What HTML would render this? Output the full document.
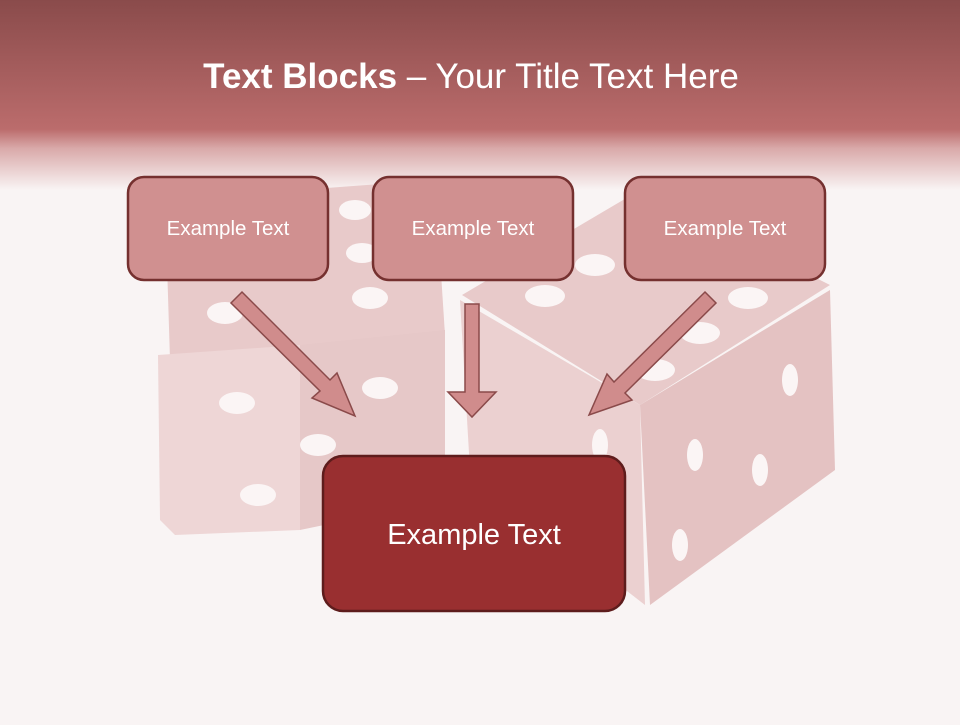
<!DOCTYPE html>
<html><head><style>
body{margin:0;width:960px;height:720px;overflow:hidden;font-family:"Liberation Sans",sans-serif;background:#f9f4f4;}
</style></head><body>
<svg width="960" height="720" viewBox="0 0 960 720" xmlns="http://www.w3.org/2000/svg">
<defs>
<linearGradient id="hd" x1="0" y1="0" x2="0" y2="1">
<stop offset="0" stop-color="#8a4b4b"/>
<stop offset="0.68" stop-color="#bb6c6c"/>
<stop offset="0.78" stop-color="#d9a9a9"/>
<stop offset="1" stop-color="#f9f4f4"/>
</linearGradient>
</defs>
<rect width="960" height="720" fill="#f9f4f4"/>
<rect width="960" height="190" fill="url(#hd)"/>
<!-- left die -->
<polygon points="165,200 435,180 445,335 170,360" fill="#e8caca"/>
<polygon points="158,355 300,345 300,530 175,535 160,520" fill="#eed6d6"/>
<polygon points="300,345 445,330 445,500 300,530" fill="#e6c8c8"/>
<!-- right die -->
<polygon points="462,295 640,190 830,285 640,405" fill="#e8caca"/>
<polygon points="460,300 640,405 645,605 470,470" fill="#ebd0d0"/>
<polygon points="640,405 830,290 835,470 650,605" fill="#e4c2c2"/>
<g fill="#fbf5f5">
<ellipse cx="355" cy="210" rx="16" ry="10"/><ellipse cx="362" cy="253" rx="16" ry="10"/><ellipse cx="370" cy="298" rx="18" ry="11"/>
<ellipse cx="225" cy="313" rx="18" ry="11"/><ellipse cx="380" cy="388" rx="18" ry="11"/><ellipse cx="318" cy="445" rx="18" ry="11"/>
<ellipse cx="237" cy="403" rx="18" ry="11"/><ellipse cx="258" cy="495" rx="18" ry="11"/>
<ellipse cx="545" cy="296" rx="20" ry="11"/><ellipse cx="595" cy="265" rx="20" ry="11"/><ellipse cx="748" cy="298" rx="20" ry="11"/>
<ellipse cx="700" cy="333" rx="20" ry="11"/><ellipse cx="655" cy="370" rx="20" ry="11"/>
<ellipse cx="790" cy="380" rx="8" ry="16"/><ellipse cx="695" cy="455" rx="8" ry="16"/><ellipse cx="760" cy="470" rx="8" ry="16"/><ellipse cx="680" cy="545" rx="8" ry="16"/>
<ellipse cx="600" cy="445" rx="8" ry="16"/>
</g>
<text x="471" y="88" text-anchor="middle" font-size="35" fill="#ffffff" font-family="Liberation Sans, sans-serif"><tspan font-weight="bold">Text Blocks</tspan> – Your Title Text Here</text>
<!-- boxes -->
<g fill="#d09090" stroke="#75302f" stroke-width="2.5">
<rect x="128" y="177" width="200" height="103" rx="16"/>
<rect x="373" y="177" width="200" height="103" rx="16"/>
<rect x="625" y="177" width="200" height="103" rx="16"/>
</g>
<g fill="#ffffff" font-size="20.5" text-anchor="middle" font-family="Liberation Sans, sans-serif">
<text x="228" y="235">Example Text</text>
<text x="473" y="235">Example Text</text>
<text x="725" y="235">Example Text</text>
</g>
<!-- arrows -->
<g fill="#d08c8c" stroke="#8a4a4a" stroke-width="1.5">
<polygon points="242,292 330,380 337,373 355,416 312,398 320,391 231,303"/>
<polygon points="465,304 479,304 479,392 496,392 472,417 448,392 465,392"/>
<polygon points="705,292 716,303 625,393 632,400 589,415 607,374 614,382"/>
</g>
<rect x="323" y="456" width="302" height="155" rx="20" fill="#992f30" stroke="#5e1c1c" stroke-width="2.5"/>
<text x="474" y="544" text-anchor="middle" font-size="29" fill="#ffffff" font-family="Liberation Sans, sans-serif">Example Text</text>
</svg>
</body></html>
